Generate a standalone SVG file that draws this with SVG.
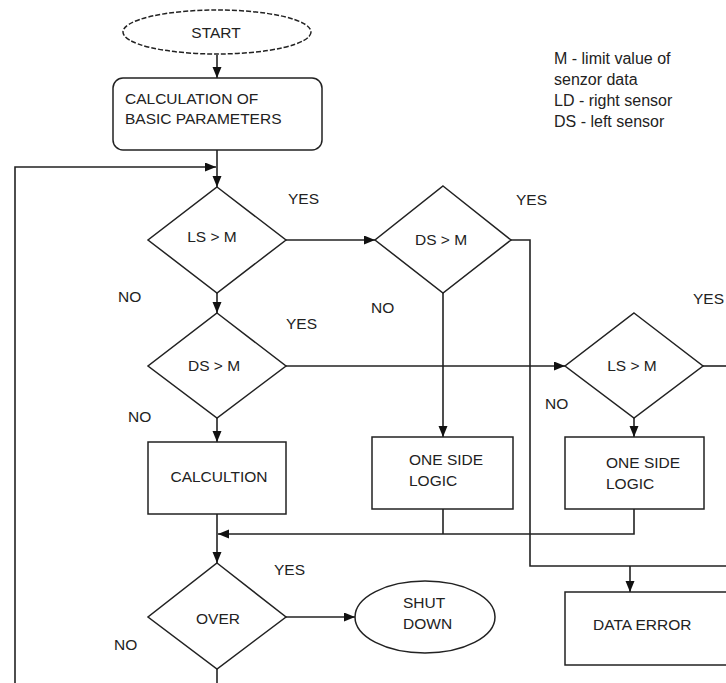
<svg xmlns="http://www.w3.org/2000/svg" width="726" height="683" viewBox="0 0 726 683">
<defs>
<marker id="arr" markerUnits="userSpaceOnUse" markerWidth="12" markerHeight="10" refX="11" refY="4.5" orient="auto">
<path d="M0,0 L11,4.5 L0,9 z" fill="#111"/>
</marker>
<style>
.s{fill:#fff;stroke:#222;stroke-width:1.5}
.c{fill:none;stroke:#222;stroke-width:1.6}
.t{font-family:"Liberation Sans",Arial,sans-serif;font-size:15.5px;fill:#222}
.m{text-anchor:middle}
.l{font-size:16px}
</style>
</defs>
<rect width="726" height="683" fill="#fff"/>
<g id="connectors" class="c">
<line x1="217" y1="55" x2="217" y2="78" marker-end="url(#arr)"/>
<line x1="217" y1="150" x2="217" y2="187" marker-end="url(#arr)"/>
<path d="M15,683 V167 H216" marker-end="url(#arr)"/>
<line x1="217" y1="293" x2="217" y2="313" marker-end="url(#arr)"/>
<line x1="217" y1="418" x2="217" y2="442" marker-end="url(#arr)"/>
<line x1="217" y1="514" x2="217" y2="563" marker-end="url(#arr)"/>
<line x1="217" y1="669" x2="217" y2="683"/>
<line x1="286" y1="617" x2="355" y2="617" marker-end="url(#arr)"/>
<line x1="286" y1="240" x2="375" y2="240" marker-end="url(#arr)"/>
<path d="M511,240 H530 V566 H726"/>
<line x1="443" y1="293" x2="443" y2="437" marker-end="url(#arr)"/>
<line x1="286" y1="366" x2="565" y2="366" marker-end="url(#arr)"/>
<line x1="703" y1="366" x2="726" y2="366"/>
<line x1="634" y1="418" x2="634" y2="437" marker-end="url(#arr)"/>
<path d="M443,509 V534"/>
<path d="M634,509 V534 H218" marker-end="url(#arr)"/>
<line x1="630" y1="566" x2="630" y2="592" marker-end="url(#arr)"/>
</g>
<g id="start">
<ellipse class="s" cx="217" cy="32" rx="94" ry="22" stroke-dasharray="5,2"/>
<text class="t m" x="216" y="38">START</text>
</g>
<g id="calc-basic">
<rect class="s" x="113" y="78" width="209" height="72" rx="10"/>
<text class="t" x="125" y="104">CALCULATION OF</text>
<text class="t" x="125" y="124">BASIC PARAMETERS</text>
</g>
<g id="legend">
<text class="t l" x="554" y="64">M - limit value of</text>
<text class="t l" x="554" y="85">senzor data</text>
<text class="t l" x="554" y="106">LD - right sensor</text>
<text class="t l" x="554" y="127">DS - left sensor</text>
</g>
<g id="ls1">
<polygon class="s" points="217,187 286,240 217,293 148,240"/>
<text class="t m" x="212" y="242">LS &gt; M</text>
</g>
<g id="ds2">
<polygon class="s" points="217,313 286,366 217,418 148,366"/>
<text class="t m" x="214" y="371">DS &gt; M</text>
</g>
<g id="dsr">
<polygon class="s" points="443,186 511,240 443,293 375,240"/>
<text class="t m" x="441" y="245">DS &gt; M</text>
</g>
<g id="ls3">
<polygon class="s" points="634,313 703,366 634,418 565,366"/>
<text class="t m" x="632" y="371">LS &gt; M</text>
</g>
<g id="calcultion">
<rect class="s" x="148" y="442" width="138" height="72"/>
<text class="t m" x="219" y="482">CALCULTION</text>
</g>
<g id="oneside1">
<rect class="s" x="372" y="437" width="141" height="72"/>
<text class="t" x="409" y="465">ONE SIDE</text>
<text class="t" x="409" y="486">LOGIC</text>
</g>
<g id="oneside2">
<rect class="s" x="565" y="437" width="139" height="72"/>
<text class="t" x="606" y="468">ONE SIDE</text>
<text class="t" x="606" y="489">LOGIC</text>
</g>
<g id="over">
<polygon class="s" points="217,563 286,617 217,669 148,617"/>
<text class="t m" x="218" y="624">OVER</text>
</g>
<g id="shutdown">
<ellipse class="s" cx="425" cy="617" rx="70" ry="36"/>
<text class="t" x="403" y="608">SHUT</text>
<text class="t" x="403" y="629">DOWN</text>
</g>
<g id="dataerror">
<rect class="s" x="565" y="592" width="200" height="73"/>
<text class="t" x="593" y="630">DATA ERROR</text>
</g>
<g id="labels">
<text class="t" x="288" y="204">YES</text>
<text class="t" x="118" y="302">NO</text>
<text class="t" x="286" y="329">YES</text>
<text class="t" x="128" y="422">NO</text>
<text class="t" x="516" y="205">YES</text>
<text class="t" x="371" y="313">NO</text>
<text class="t" x="693" y="304">YES</text>
<text class="t" x="545" y="409">NO</text>
<text class="t" x="274" y="575">YES</text>
<text class="t" x="114" y="650">NO</text>
</g>
</svg>
